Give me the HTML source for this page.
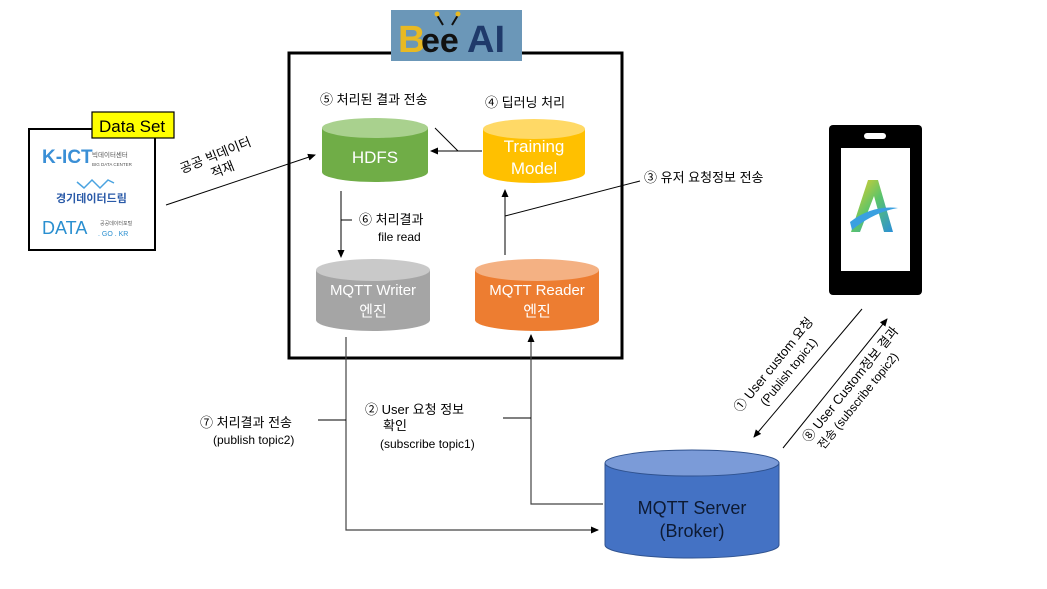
<!DOCTYPE html>
<html><head><meta charset="utf-8"><style>
html,body{margin:0;padding:0;background:#fff;}
svg{display:block;font-family:"Liberation Sans","Noto Sans CJK KR",sans-serif;}
</style></head><body>
<svg width="1047" height="589" viewBox="0 0 1047 589" xmlns="http://www.w3.org/2000/svg">
<defs>
<marker id="ah" markerWidth="8" markerHeight="8" refX="7" refY="4" orient="auto" markerUnits="userSpaceOnUse">
<path d="M0,0.5 L8,4 L0,7.5 z" fill="#000"/></marker>
<linearGradient id="ag" x1="0" y1="0" x2="1" y2="1"><stop offset="0" stop-color="#f2d024"/><stop offset="0.5" stop-color="#5cc46a"/><stop offset="1" stop-color="#2a8fd8"/></linearGradient>
</defs>
<rect width="1047" height="589" fill="#fff"/>

<!-- main box -->
<rect x="289" y="53" width="333" height="305" fill="none" stroke="#000" stroke-width="3"/>
<!-- BeeAI logo -->
<rect x="391" y="10" width="131" height="51" fill="#6b97b8"/>
<text x="398" y="52" font-size="38" font-weight="bold" fill="#e8b923">B</text>
<text x="421" y="52" font-size="34" font-weight="bold" fill="#111">ee</text>
<text x="467" y="52" font-size="38" font-weight="bold" fill="#1f3a6a">AI</text>
<path d="M443,25 L437,15 M452,25 L458,15" stroke="#111" stroke-width="2"/>
<circle cx="437" cy="14" r="2.5" fill="#e8b923"/><circle cx="458" cy="14" r="2.5" fill="#e8b923"/>

<!-- Data set -->
<rect x="29" y="129" width="126" height="121" fill="#fff" stroke="#000" stroke-width="2"/>
<rect x="92" y="112" width="82" height="26" fill="#ffff00" stroke="#000" stroke-width="1.2"/>
<text x="99" y="132" font-size="17">Data Set</text>
<text x="42" y="163" font-size="19" font-weight="bold" fill="#3a8fd6">K-ICT</text>
<text x="92" y="157" font-size="6.5" fill="#555">빅데이터센터</text>
<text x="92" y="166" font-size="4.5" fill="#555">BIG DATA CENTER</text>
<polyline points="77,182 84,188 92,180 100,188 108,180 114,183" fill="none" stroke="#4aa3e0" stroke-width="1.5"/>
<text x="56" y="202" font-size="11" font-weight="bold" fill="#2a5aa8">경기데이터드림</text>
<text x="42" y="234" font-size="18" fill="#2a8fd0">DATA</text>
<text x="100" y="225" font-size="5" fill="#555">공공데이터포털</text>
<text x="98" y="236" font-size="7" fill="#2a8fd0">. GO . KR</text>

<!-- 공공 빅데이터 적재 -->
<g transform="rotate(-22 220 155)">
<text x="178" y="158" font-size="13">공공 빅데이터</text>
<text x="205" y="174" font-size="13">적재</text>
</g>
<line x1="166" y1="205" x2="315" y2="155" stroke="#000" marker-end="url(#ah)"/>

<!-- cylinders -->
<g>
<path d="M322,128 v44 a53,10 0 0 0 106,0 v-44" fill="#70ad47"/>
<ellipse cx="375" cy="128" rx="53" ry="10" fill="#a9d18e"/>
<text x="375" y="163" font-size="17" fill="#fff" text-anchor="middle">HDFS</text>

<path d="M483,129 v44 a51,10 0 0 0 102,0 v-44" fill="#ffc000"/>
<ellipse cx="534" cy="129" rx="51" ry="10" fill="#ffd966"/>
<text x="534" y="152" font-size="17" fill="#fff" text-anchor="middle">Training</text>
<text x="534" y="174" font-size="17" fill="#fff" text-anchor="middle">Model</text>

<path d="M316,270 v50 a57,11 0 0 0 114,0 v-50" fill="#a5a5a5"/>
<ellipse cx="373" cy="270" rx="57" ry="11" fill="#c9c9c9"/>
<text x="373" y="295" font-size="15" fill="#fff" text-anchor="middle">MQTT Writer</text>
<text x="373" y="316" font-size="15" fill="#fff" text-anchor="middle">엔진</text>

<path d="M475,270 v50 a62,11 0 0 0 124,0 v-50" fill="#ed7d31"/>
<ellipse cx="537" cy="270" rx="62" ry="11" fill="#f4b183"/>
<text x="537" y="295" font-size="15" fill="#fff" text-anchor="middle">MQTT Reader</text>
<text x="537" y="316" font-size="15" fill="#fff" text-anchor="middle">엔진</text>

<path d="M605,463 v82 a87,13 0 0 0 174,0 v-82" fill="#4472c4" stroke="#2f528f" stroke-width="1"/>
<ellipse cx="692" cy="463" rx="87" ry="13" fill="#7b9bd8" stroke="#2f528f" stroke-width="1"/>
<text x="692" y="514" font-size="18" fill="#0d1a33" text-anchor="middle">MQTT Server</text>
<text x="692" y="537" font-size="18" fill="#0d1a33" text-anchor="middle">(Broker)</text>
</g>

<!-- inner labels -->
<text x="320" y="104" font-size="13">⑤ 처리된 결과 전송</text>
<text x="485" y="107" font-size="13">④ 딥러닝 처리</text>
<line x1="435" y1="128" x2="458" y2="151" stroke="#000"/>
<line x1="482" y1="151" x2="431" y2="151" stroke="#000" marker-end="url(#ah)"/>
<line x1="341" y1="191" x2="341" y2="257" stroke="#000" marker-end="url(#ah)"/>
<line x1="341" y1="220" x2="352" y2="220" stroke="#000"/>
<text x="359" y="224" font-size="13">⑥ 처리결과</text>
<text x="378" y="241" font-size="12">file read</text>
<line x1="505" y1="255" x2="505" y2="190" stroke="#000" marker-end="url(#ah)"/>
<line x1="505" y1="216" x2="640" y2="181" stroke="#000"/>
<text x="644" y="182" font-size="13">③ 유저 요청정보 전송</text>

<!-- bottom connectors -->
<polyline points="346,337 346,530 598,530" fill="none" stroke="#444" stroke-width="1.2" marker-end="url(#ah)"/>
<line x1="318" y1="420" x2="346" y2="420" stroke="#000"/>
<text x="200" y="427" font-size="13">⑦ 처리결과 전송</text>
<text x="213" y="444" font-size="12">(publish topic2)</text>
<polyline points="603,504 531,504 531,335" fill="none" stroke="#444" stroke-width="1.2" marker-end="url(#ah)"/>
<line x1="503" y1="418" x2="531" y2="418" stroke="#000"/>
<text x="365" y="414" font-size="13">② User 요청 정보</text>
<text x="383" y="430" font-size="13">확인</text>
<text x="380" y="448" font-size="12">(subscribe  topic1)</text>

<!-- phone -->
<rect x="829" y="125" width="93" height="170" rx="4" fill="#000"/>
<rect x="841" y="148" width="69" height="123" fill="#fff"/>
<rect x="864" y="133" width="22" height="6" rx="3" fill="#fff"/>
<path d="M851,232 L868,180 L878,180 L893,232 L884,232 L874,196 L860,232 z" fill="url(#ag)"/>
<path d="M850,222 Q872,205 898,208 Q874,212 852,230 z" fill="#3aa0e0"/>

<!-- phone arrows -->
<line x1="862" y1="309" x2="754" y2="437" stroke="#000" marker-end="url(#ah)"/>
<line x1="783" y1="448" x2="887" y2="319" stroke="#000" marker-end="url(#ah)"/>
<g transform="rotate(-51 780 370)">
<text x="780" y="366" font-size="13" text-anchor="middle">① User custom 요청</text>
<text x="784" y="382" font-size="12" text-anchor="middle">(Publish topic1)</text>
</g>
<g transform="rotate(-51 855 392)">
<text x="858" y="388" font-size="13" text-anchor="middle">⑧ User Custom정보 결과</text>
<text x="850" y="404" font-size="12" text-anchor="middle">전송 (subscribe topic2)</text>
</g>
</svg>
</body></html>
